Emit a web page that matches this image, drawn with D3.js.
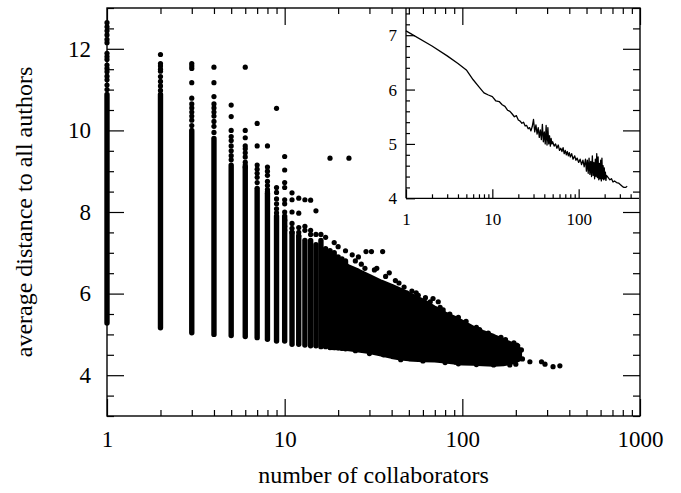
<!DOCTYPE html>
<html><head><meta charset="utf-8">
<script src="https://cdn.jsdelivr.net/npm/d3@7"></script>
<style>body{margin:0;background:#fff}svg{display:block}</style>
</head><body><svg id="c" width="681" height="493"></svg>
<script>
// ---- main scatter: dense vertical strips per collaborator count ----
const stripK  = [1,2,3,4,5,6,7,8,9,10,11,12,13,14,15,16,17,18,19,20,21,22];
const stripLo = [5.28,5.16,5.04,5.00,4.97,4.95,4.92,4.88,4.84,4.84,4.76,4.76,4.74,4.72,4.72,4.70,4.70,4.68,4.68,4.67,4.66,4.65];
const stripHi = [10.88,10.88,10.0,9.8,9.15,9.1,8.58,8.46,7.9,7.9,7.5,7.4,7.3,7.3,7.2,7.3,7.1,7.05,7.0,6.9,6.85,6.8];
// merged dense cloud for larger counts
const blobK  = [18,20,23,26,30,35,40,45,50,60,70,80,90,100,115,130,150,170,190,210];
const blobHi = [6.95,6.8,6.65,6.55,6.42,6.28,6.18,6.08,5.98,5.82,5.64,5.5,5.4,5.3,5.15,5.05,4.95,4.85,4.75,4.62];
const blobLo = [4.68,4.67,4.65,4.62,4.58,4.52,4.46,4.42,4.40,4.38,4.37,4.35,4.32,4.30,4.29,4.28,4.27,4.28,4.32,4.40];
// isolated points: collaborator count
const dotK = [1,1,1,1,1,1,1,1,1,1,1,1,1,1,1,1,
  2,2,2,2,2,2,2,2,2,
  3,3,3,3,3,3,3,3,3,3,3,
  4,4,4,4,4,4,4,4,4,4,
  5,5,5,5,5,5,5,5,5,
  6,6,6,6,6,6,6,6,6,6,
  7,7,7,7,7,7,7,
  8,8,8,8,8,8,8,8,
  9,9,9,9,9,9,9,
  10,10,10,10,10,10,10,10,10,10,
  11,11,11,11,11,11,
  12,12,12,12,12,
  13,13,13, 14,14,14, 15,15, 16,17,19,20,22,24,26,
  18,23,
  21.8,28.3,28.7,30.8,35.6,38.8,48.6,56.5,64.2,68.4,73.2,90.6,101,159,202,
  110,185,218,240,279,292,324,354,
  25,27,32,33,37,42,44,47,52,55,62,66,75,78,85,95,105,120,125,140,165,175,195,205,215,
  30,45,60,80,95,120,150,200,25,36];
// isolated points: average distance
const dotD = [12.64,12.54,12.44,12.34,12.23,12.15,11.89,11.81,11.74,11.60,11.52,11.44,11.33,11.24,11.11,11.0,
  11.86,11.64,11.58,11.50,11.45,11.32,11.20,11.09,10.98,
  11.64,11.58,11.52,11.17,10.79,10.65,10.55,10.45,10.35,10.25,10.12,
  11.55,11.17,10.83,10.65,10.55,10.45,10.35,10.22,10.10,9.95,
  10.62,10.34,10.0,9.85,9.75,9.62,9.5,9.38,9.28,
  11.55,10.0,9.82,9.62,9.55,9.45,9.35,9.22,9.15,9.1,
  10.17,9.62,9.15,9.05,8.95,8.85,8.72,
  9.62,9.1,9.0,8.9,8.75,8.65,8.55,8.5,
  10.54,8.6,8.48,8.32,8.2,8.08,7.98,
  9.36,9.03,8.72,8.6,8.3,8.2,8.0,7.8,7.65,7.55,
  8.47,8.3,8.0,7.72,7.6,7.5,
  8.34,7.97,7.62,7.5,7.42,
  8.3,7.65,7.55, 8.29,7.55,7.45, 8.03,7.45, 7.45,7.38,7.25,7.15,7.05,6.95,6.9,
  9.32,9.32,
  6.74,6.62,7.03,7.03,7.03,6.51,6.02,5.96,5.43,5.88,5.80,5.23,5.11,4.82,4.74,
  4.33,4.25,4.40,4.33,4.33,4.27,4.21,4.23,
  6.8,6.72,6.58,6.62,6.42,6.32,6.26,6.16,6.06,6.02,5.9,5.8,5.66,5.6,5.5,5.42,5.32,5.17,5.12,5.03,4.93,4.87,4.79,4.72,4.62,
  4.53,4.38,4.35,4.31,4.28,4.26,4.25,4.27,4.6,4.5];
const xMajor = [1,10,100,1000];
const xMinor = [2,3,4,5,6,7,8,9,20,30,40,50,60,70,80,90,200,300,400,500,600,700,800,900];
const yMajor = [4,6,8,10,12];
const yMinor = [3,3.5,4.5,5,5.5,6.5,7,7.5,8.5,9,9.5,10.5,11,11.5,12.5,13];

// ---- inset: mean distance vs collaborators ----
const insetK = [1,2,3,4,5,6,7,8,9,10,11,12,13,14,15,16,17,18,19,20,21,22,23,24,25,26,27,28,29,30,31,32,33,34,35,36,37,38,39,40,41,42,43,44,45,46,47,48,49,50,52,54,56,58,60,62,64,66,68,70,72,74,76,78,80,83,86,90,93,96,100,104,108,112,116,
  120,123,126,129,132,135,138,141,144,147,150,153,156,159,162,165,168,171,174,177,180,183,186,189,192,195,198,201,204,207,210,
  220,230,240,250,260,275,290,305,320,335,350,365];
const insetD = [7.08,6.80,6.62,6.48,6.36,6.18,6.05,5.94,5.90,5.87,5.79,5.78,5.72,5.69,5.62,5.60,5.55,5.50,5.52,5.44,5.42,5.38,5.40,5.33,5.34,5.28,5.30,5.24,5.32,5.45,5.22,5.35,5.18,5.30,5.12,5.26,5.08,5.36,5.04,5.22,5.00,5.34,4.98,5.30,5.00,5.15,4.96,5.10,5.00,5.04,4.96,5.00,4.92,4.98,4.88,4.92,4.86,4.93,4.82,4.88,4.80,4.86,4.78,4.84,4.76,4.82,4.72,4.78,4.70,4.74,4.66,4.72,4.62,4.70,4.58,
  4.72,4.50,4.70,4.46,4.74,4.44,4.68,4.40,4.78,4.42,4.66,4.36,4.72,4.40,4.82,4.38,4.76,4.34,4.64,4.36,4.70,4.32,4.74,4.36,4.60,4.34,4.56,4.36,4.48,4.33,4.42,
  4.38,4.34,4.36,4.30,4.32,4.29,4.28,4.25,4.22,4.20,4.20,4.22];
const ixMajor = [1,10,100];
const ixMinor = [2,3,4,5,6,7,8,9,20,30,40,50,60,70,80,90,200,300,400];
const iyMajor = [4,5,6,7];
const iyMinor = [4.2,4.4,4.6,4.8,5.2,5.4,5.6,5.8,6.2,6.4,6.6,6.8,7.2,7.4];

const FONT = "'Liberation Serif','Times New Roman',serif";
const svg = d3.select("#c");
const L = 107, R = 640, T = 8, B = 416;
const x = d3.scaleLog().domain([1,1000]).range([L,R]);
const y = d3.scaleLinear().domain([3,13]).range([B,T]);

svg.append("g").selectAll("line").data(stripK.map((k,i)=>({k,lo:stripLo[i],hi:stripHi[i]})))
  .join("line")
  .attr("x1",d=>x(d.k)).attr("x2",d=>x(d.k))
  .attr("y1",d=>y(d.lo)).attr("y2",d=>y(d.hi))
  .attr("stroke","#000").attr("stroke-width",5.4).attr("stroke-linecap","round");
const blob = blobK.map((k,i)=>({k,lo:blobLo[i],hi:blobHi[i]}));
svg.append("path").datum(blob)
  .attr("d", d3.area().x(d=>x(d.k)).y0(d=>y(d.lo)).y1(d=>y(d.hi)))
  .attr("fill","#000").attr("stroke","#000").attr("stroke-width",5).attr("stroke-linejoin","round");
svg.append("g").selectAll("circle").data(dotK.map((k,i)=>({k,d:dotD[i]})))
  .join("circle").attr("cx",d=>x(d.k)).attr("cy",d=>y(d.d)).attr("r",2.6).attr("fill","#000");

// ---- inset ----
const IL = 406, IR = 639, IT = T, IB = 198.3;
const xi = d3.scaleLog().domain([1,500]).range([IL,IR]);
const yi = d3.scaleLinear().domain([4,7.5]).range([IB,IT]);
svg.append("rect").attr("x",IL).attr("y",IT).attr("width",IR-IL).attr("height",IB-IT).attr("fill","#fff");
svg.append("path").datum(insetK.map((k,i)=>({k,d:insetD[i]})))
  .attr("d", d3.line().x(d=>xi(d.k)).y(d=>yi(d.d)))
  .attr("fill","none").attr("stroke","#000").attr("stroke-width",1.3).attr("stroke-linejoin","round");

function styleAxis(g, fs){
  g.attr("font-family",FONT);
  g.select(".domain").remove();
  g.selectAll("line").attr("stroke","#000").attr("stroke-width",1.2);
  g.selectAll("text").attr("font-family",FONT).attr("font-size",fs).attr("fill","#000");
}
svg.append("g").attr("transform",`translate(${IL},0)`)
  .call(d3.axisLeft(yi).tickValues(iyMajor).tickSize(-9).tickPadding(9).tickFormat(d3.format("d")))
  .call(g=>styleAxis(g,17));
svg.append("g").attr("transform",`translate(${IL},0)`)
  .call(d3.axisLeft(yi).tickValues(iyMinor).tickSize(-4).tickFormat(""))
  .call(g=>styleAxis(g,17));
svg.append("g").attr("transform",`translate(0,${IB})`)
  .call(d3.axisBottom(xi).tickValues(ixMajor).tickSize(-9).tickPadding(14.6).tickFormat(d3.format("d")))
  .call(g=>styleAxis(g,17));
svg.append("g").attr("transform",`translate(0,${IB})`)
  .call(d3.axisBottom(xi).tickValues(ixMinor).tickSize(-4).tickFormat(""))
  .call(g=>styleAxis(g,17));
svg.append("line").attr("x1",IL).attr("x2",IL).attr("y1",IT).attr("y2",IB).attr("stroke","#000").attr("stroke-width",1.3);
svg.append("line").attr("x1",IL).attr("x2",IR).attr("y1",IB).attr("y2",IB).attr("stroke","#000").attr("stroke-width",1.3);

// ---- main axes ----
svg.append("g").attr("transform",`translate(0,${B})`)
  .call(d3.axisBottom(x).tickValues(xMajor).tickSize(-17).tickPadding(14.7).tickFormat(d3.format("d")))
  .call(g=>styleAxis(g,23));
svg.append("g").attr("transform",`translate(0,${B})`)
  .call(d3.axisBottom(x).tickValues(xMinor).tickSize(-6).tickFormat("")).call(g=>styleAxis(g,23));
svg.append("g").attr("transform",`translate(0,${T})`)
  .call(d3.axisTop(x).tickValues(xMajor).tickSize(-17).tickFormat("")).call(g=>styleAxis(g,23));
svg.append("g").attr("transform",`translate(0,${T})`)
  .call(d3.axisTop(x).tickValues(xMinor).tickSize(-6).tickFormat("")).call(g=>styleAxis(g,23));
svg.append("g").attr("transform",`translate(${L},0)`)
  .call(d3.axisLeft(y).tickValues(yMajor).tickSize(-17).tickPadding(16).tickFormat(d3.format("d")))
  .call(g=>styleAxis(g,23));
svg.append("g").attr("transform",`translate(${L},0)`)
  .call(d3.axisLeft(y).tickValues(yMinor).tickSize(-7).tickFormat("")).call(g=>styleAxis(g,23));
svg.append("g").attr("transform",`translate(${R},0)`)
  .call(d3.axisRight(y).tickValues(yMajor).tickSize(-17).tickFormat("")).call(g=>styleAxis(g,23));
svg.append("g").attr("transform",`translate(${R},0)`)
  .call(d3.axisRight(y).tickValues(yMinor).tickSize(-7).tickFormat("")).call(g=>styleAxis(g,23));
svg.append("rect").attr("x",L).attr("y",T).attr("width",R-L).attr("height",B-T)
  .attr("fill","none").attr("stroke","#000").attr("stroke-width",1.4);

svg.append("text").attr("x",(L+R)/2).attr("y",483).attr("text-anchor","middle")
  .attr("font-family",FONT).attr("font-size",24).text("number of collaborators");
svg.append("text").attr("transform",`translate(32,${(T+B)/2}) rotate(-90)`).attr("text-anchor","middle")
  .attr("font-family",FONT).attr("font-size",24).text("average distance to all authors");
</script></body></html>
